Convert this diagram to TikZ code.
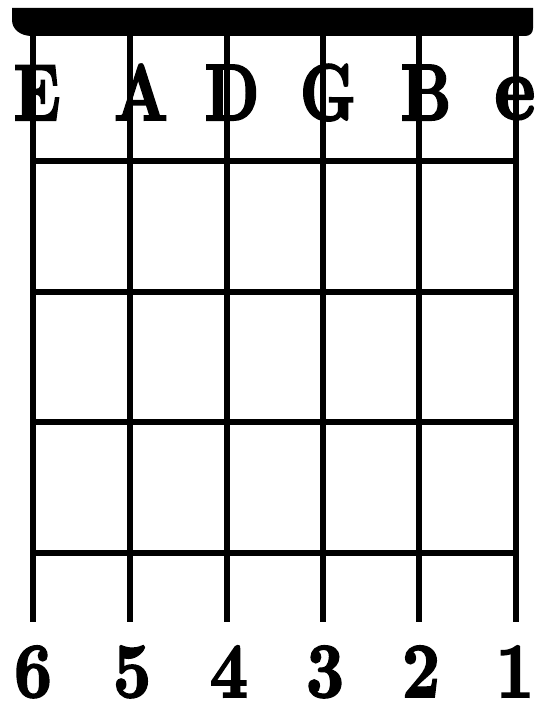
\documentclass[tikz,border=0pt]{standalone}
\usepackage{fontspec}
\newfontfamily\fatface[FakeBold=2.5]{lmroman10-bold.otf}
\begin{document}
\begin{tikzpicture}[x=1pt,y=-1pt,
  stringline/.style={line width=6pt,line cap=butt},
  fretline/.style={line width=6pt,line cap=butt},
  lbl/.style={anchor=base,inner sep=0pt,font=\fatface\fontsize{80}{80}\selectfont},
  num/.style={anchor=base,inner sep=0pt,font=\fatface\fontsize{78}{78}\selectfont}]
\useasboundingbox (0,0) rectangle (535,703);
% labels
\node[lbl,xscale=0.78] (lE) at (37,120) {E};
\node[lbl,xscale=0.78] (lA) at (141,120) {A};
\node[lbl,xscale=0.78] (lD) at (232,120) {D};
\node[lbl,xscale=0.78] (lG) at (328,120) {G};
\node[lbl,xscale=0.78] (lB) at (426,120) {B};
\node[lbl,font=\fatface\fontsize{92}{92}\selectfont,xscale=0.85] (le) at (515,119) {e};
% numbers
\node[num,xscale=0.85] (n6) at (33,697) {6};
\node[num,xscale=0.85] (n5) at (132,697) {5};
\node[num,xscale=0.85] (n4) at (229,697) {4};
\node[num,xscale=0.85] (n3) at (325,697) {3};
\node[num,xscale=0.85] (n2) at (421,697) {2};
\node[num,xscale=0.85] (n1) at (515,697) {1};
% nut
\fill (12,8) -- (533,8) -- (533,28) .. controls (533,33) and (530,36) .. (525,36)
  -- (32,36) .. controls (20,36) and (12,29) .. (12,20) -- cycle;
% strings
\foreach \i/\x in {1/33,2/130,3/226.5,4/323,5/419,6/516}{
  \coordinate (s\i t) at (\x,30);
  \coordinate (s\i b) at (\x,622);
  \draw[stringline] (s\i t) -- (s\i b);
}
% frets
\foreach \j/\y in {1/161.5,2/291.8,3/422.1,4/552.5}{
  \coordinate (f\j l) at (30,\y);
  \coordinate (f\j r) at (519,\y);
  \draw[fretline] (f\j l) -- (f\j r);
}
\end{tikzpicture}
\end{document}
